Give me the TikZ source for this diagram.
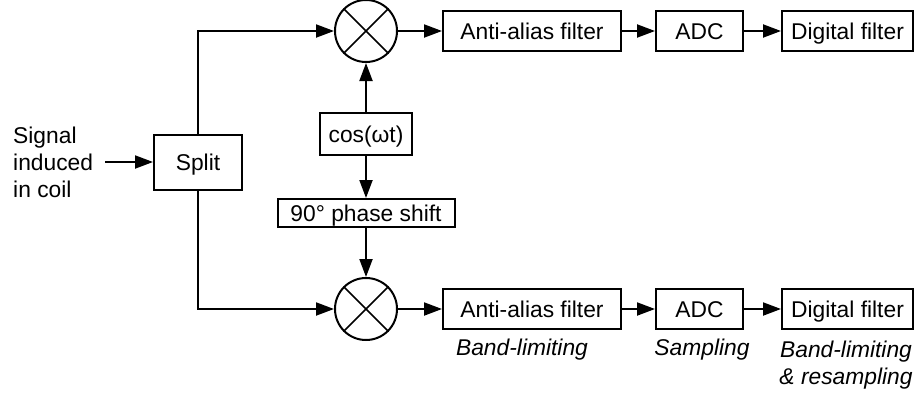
\documentclass[tikz,border=0pt]{standalone}
\usepackage{fontspec}
\setmainfont{Liberation Sans}
\usepackage{tikz}
\usetikzlibrary{arrows.meta}
\newcommand{\diagfont}{\fontsize{22.8}{27}\selectfont}
\tikzstyle{blk}=[draw, line width=2pt, inner sep=0pt, minimum height=40pt, text height=16.4pt, text depth=0pt]
\tikzstyle{mix}=[draw, circle, line width=2pt, inner sep=0pt, minimum size=62pt]
\tikzstyle{arr}=[line width=2pt, -{Triangle[length=18pt,width=13pt]}]
\tikzstyle{note}=[font=\diagfont\itshape, align=center, inner sep=0pt]

\begin{document}
\begin{tikzpicture}[x=1pt,y=-1pt,font=\diagfont]
\useasboundingbox (0,0) rectangle (917,394);
% input and splitter
\node[align=left, anchor=west, inner sep=0pt] (sig) at (13,162) {Signal\\induced\\in coil};
\coordinate (in) at (105,162);
\node[blk, minimum width=88pt, minimum height=55pt] (split) at (198,162) {Split};
\draw[arr] (in) -- (split);
% local oscillator
\node[blk, minimum width=92pt, minimum height=42pt] (cos) at (366,134) {cos(ωt)};
\node[blk, minimum width=177pt, minimum height=28pt] (shift) at (366,213) {90° phase shift};
% two branches
\foreach \r/\y in {A/31,B/309} {
	\node[mix] (mix\r) at (366,\y) {};
	\draw[line width=1.5pt] (mix\r.45) -- (mix\r.225) (mix\r.135) -- (mix\r.315);
	\node[blk, minimum width=178pt] (aa\r) at (532,\y) {Anti-alias filter};
	\node[blk, minimum width=87pt] (adc\r) at (699.5,\y) {ADC};
	\node[blk, minimum width=131pt] (dig\r) at (847.5,\y) {Digital filter};
	\draw[arr] (mix\r) -- (aa\r);
	\draw[arr] (aa\r) -- (adc\r);
	\draw[arr] (adc\r) -- (dig\r);
}
\draw[arr] (split.north) |- (mixA.west);
\draw[arr] (split.south) |- (mixB.west);
\draw[arr] (cos) -- (mixA);
\draw[arr] (cos) -- (shift);
\draw[arr] (shift) -- (mixB);
% what each stage does
\node[note] (bl) at (522,350) {Band-limiting};
\node[note] (smp) at (702,350) {Sampling};
\node[note, anchor=north] (rs) at (846,341) {Band-limiting\\\& resampling};
\end{tikzpicture}
\end{document}
